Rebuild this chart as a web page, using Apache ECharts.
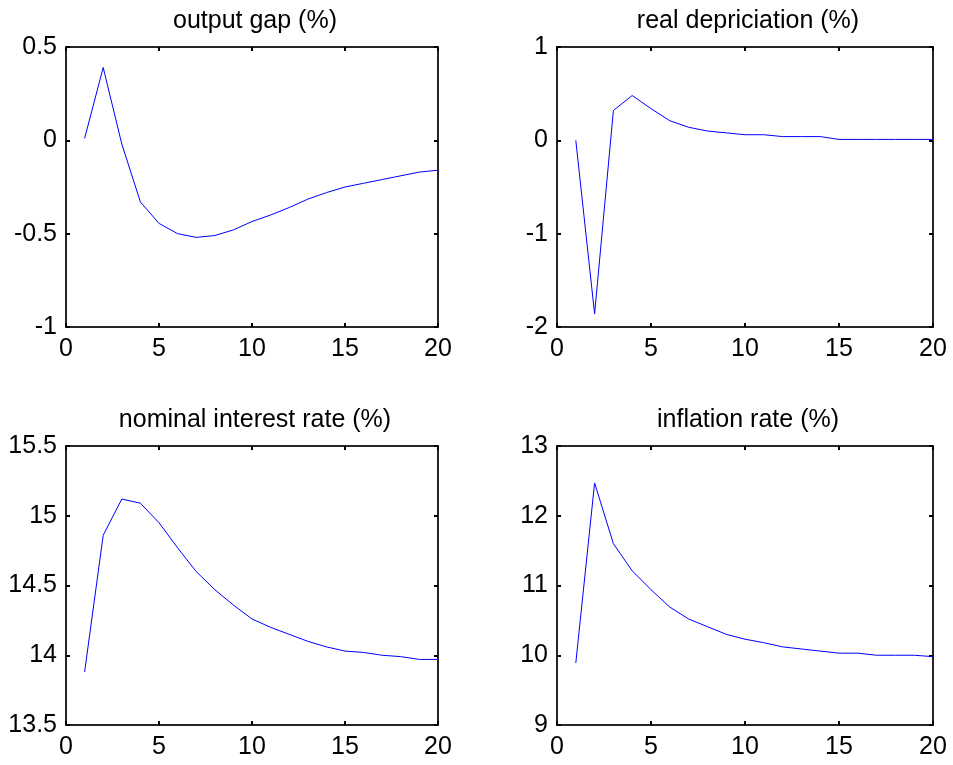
<!DOCTYPE html>
<html>
<head>
<meta charset="utf-8">
<script src="https://cdn.jsdelivr.net/npm/echarts@6/dist/echarts.min.js"></script>
<style>
html,body{margin:0;padding:0;background:#fff;}
#chart{width:953px;height:765px;}
</style>
</head>
<body>
<div id="chart"></div>
<script>
// ---- data ----
var periods = [1,2,3,4,5,6,7,8,9,10,11,12,13,14,15,16,17,18,19,20];
var outputGap = [0.01,0.39,-0.02,-0.33,-0.445,-0.50,-0.52,-0.51,-0.48,-0.435,-0.40,-0.36,-0.315,-0.28,-0.25,-0.23,-0.21,-0.19,-0.17,-0.16];
var realDepreciation = [0,-1.86,0.32,0.48,0.34,0.21,0.14,0.10,0.08,0.06,0.06,0.04,0.04,0.04,0.01,0.01,0.01,0.01,0.01,0.01];
var nominalRate = [13.88,14.86,15.12,15.09,14.95,14.77,14.60,14.47,14.36,14.26,14.20,14.15,14.10,14.06,14.03,14.02,14.00,13.99,13.97,13.97];
var inflationRate = [9.89,12.47,11.60,11.21,10.94,10.69,10.52,10.41,10.30,10.23,10.18,10.12,10.09,10.06,10.03,10.03,10.00,10.00,10.00,9.98];
var titles = ['output gap (%)','real depriciation (%)','nominal interest rate (%)','inflation rate (%)'];
var xTicks = {min:0, max:20, interval:5};
var yRanges = [
  {min:-1, max:0.5, interval:0.5},
  {min:-2, max:1, interval:1},
  {min:13.5, max:15.5, interval:0.5},
  {min:9, max:13, interval:1}
];
var seriesValues = [outputGap, realDepreciation, nominalRate, inflationRate];

// ---- layout ----
var grids = [
  {left:66, top:47, width:372, height:280},
  {left:557, top:47, width:376, height:280},
  {left:66, top:446, width:372, height:279},
  {left:557, top:446, width:376, height:279}
];
var FONT = 'Liberation Sans, Arial, sans-serif';
var lineStyle = {color:'#262626', width:2};
var tickStyle = {show:true, inside:true, length:4, lineStyle:{color:'#000', width:2}};

var option = {
  backgroundColor:'#fff',
  animation:false,
  title: [], grid: [], xAxis: [], yAxis: [], series: []
};

grids.forEach(function(g, i){
  option.grid.push({left:g.left, top:g.top, width:g.width, height:g.height, containLabel:false});
  option.title.push({
    text: titles[i],
    left: g.left + g.width/2 - 2,
    top: g.top - 43,
    textAlign: 'center',
    textStyle: {fontFamily:FONT, fontSize:25, fontWeight:'normal', color:'#000'}
  });
  // bottom x
  option.xAxis.push({
    type:'value', gridIndex:i, position:'bottom',
    min:xTicks.min, max:xTicks.max, interval:xTicks.interval,
    axisLine:{show:true, onZero:false, lineStyle:lineStyle},
    axisTick:tickStyle,
    splitLine:{show:false},
    axisLabel:{fontFamily:FONT, fontSize:25, color:'#000', margin:10}
  });
  // top mirror x
  option.xAxis.push({
    type:'value', gridIndex:i, position:'top',
    min:xTicks.min, max:xTicks.max, interval:xTicks.interval,
    axisLine:{show:true, onZero:false, lineStyle:lineStyle},
    axisTick:tickStyle,
    splitLine:{show:false},
    axisLabel:{show:false}
  });
  var r = yRanges[i];
  option.yAxis.push({
    type:'value', gridIndex:i, position:'left',
    min:r.min, max:r.max, interval:r.interval,
    axisLine:{show:true, onZero:false, lineStyle:lineStyle},
    axisTick:tickStyle,
    splitLine:{show:false},
    axisLabel:{fontFamily:FONT, fontSize:25, color:'#000', margin:9}
  });
  option.yAxis.push({
    type:'value', gridIndex:i, position:'right',
    min:r.min, max:r.max, interval:r.interval,
    axisLine:{show:true, onZero:false, lineStyle:lineStyle},
    axisTick:tickStyle,
    splitLine:{show:false},
    axisLabel:{show:false}
  });
  option.series.push({
    type:'line',
    xAxisIndex: i*2, yAxisIndex: i*2,
    data: periods.map(function(p, k){ return [p, seriesValues[i][k]]; }),
    showSymbol:false, symbol:'none',
    lineStyle:{color:'#0000ff', width:1},
    silent:true
  });
});

var chart = echarts.init(document.getElementById('chart'), null, {renderer:'canvas'});
chart.setOption(option);
</script>
</body>
</html>
